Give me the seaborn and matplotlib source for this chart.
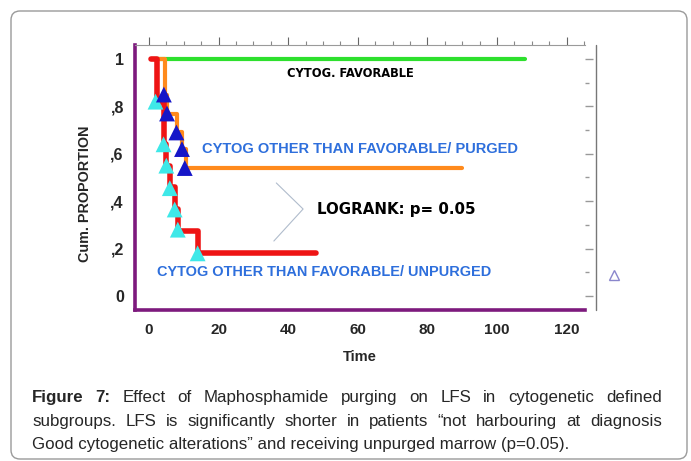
import matplotlib
matplotlib.use("Agg")
import matplotlib.pyplot as plt
from matplotlib.patches import FancyBboxPatch
from matplotlib.lines import Line2D
from matplotlib.transforms import IdentityTransform
from matplotlib.ticker import MultipleLocator
import pandas as pd
import seaborn as sns

# step curves (time in months, cumulative proportion)
fav_time = [1.0, 108.0]
fav_prop = [1.0, 1.0]

purged_time = [0.5, 4.6, 5.2, 8.0, 9.6, 10.6, 90.0]
purged_prop = [1.0, 0.85, 0.77, 0.69, 0.62, 0.54, 0.54]

unpurged_time = [0.5, 2.2, 4.3, 5.0, 6.0, 7.4, 8.3, 14.0, 48.0]
unpurged_prop = [1.0, 0.82, 0.64, 0.55, 0.46, 0.365, 0.275, 0.18, 0.18]

# censored marks
purged_cens_t = [4.3, 5.2, 7.9, 9.5, 10.3]
purged_cens_p = [0.85, 0.77, 0.69, 0.62, 0.54]
unpurged_cens_t = [1.9, 4.2, 5.0, 6.0, 7.4, 8.3, 14.0]
unpurged_cens_p = [0.82, 0.64, 0.55, 0.455, 0.365, 0.28, 0.18]

y_ticks = [0, 0.2, 0.4, 0.6, 0.8, 1.0]
y_ticklabels = ["0", ",2", ",4", ",6", ",8", "1"]
x_ticks = [0, 20, 40, 60, 80, 100, 120]

caption_lines = [
    [("Figure", "bold"), ("7:", "bold"), ("Effect", "normal"), ("of", "normal"),
     ("Maphosphamide", "normal"), ("purging", "normal"), ("on", "normal"),
     ("LFS", "normal"), ("in", "normal"), ("cytogenetic", "normal"), ("defined", "normal")],
    [(w, "normal") for w in
     "subgroups. LFS is significantly shorter in patients \u201cnot harbouring at diagnosis".split()],
]
caption_last = "Good cytogenetic alterations\u201d and receiving unpurged marrow (p=0.05)."

W, H = 691, 461
sns.set_style("white")
plt.rcParams["font.family"] = ["Liberation Sans", "DejaVu Sans"]

fig = plt.figure(figsize=(W / 100, H / 100), dpi=100)
ax = fig.add_axes([135 / W, 1 - 310 / H, 450 / W, 265 / H])

purple = "#7d1a7d"
green = "#2ee02e"
orange = "#ff8a1c"
red = "#ee1414"
blue_txt = "#2e6fdc"

fav = pd.DataFrame({"t": fav_time, "p": fav_prop})
pur = pd.DataFrame({"t": purged_time, "p": purged_prop})
unp = pd.DataFrame({"t": unpurged_time, "p": unpurged_prop})

sns.lineplot(data=fav, x="t", y="p", ax=ax, color=green, lw=3,
             drawstyle="steps-post", estimator=None, sort=False)
sns.lineplot(data=pur, x="t", y="p", ax=ax, color=orange, lw=3,
             drawstyle="steps-post", estimator=None, sort=False)
sns.lineplot(data=unp, x="t", y="p", ax=ax, color=red, lw=4,
             drawstyle="steps-post", estimator=None, sort=False)

sns.scatterplot(x=unpurged_cens_t, y=unpurged_cens_p, ax=ax, marker="^",
                s=130, color="#3ee8e8", edgecolor="none", zorder=5)
sns.scatterplot(x=purged_cens_t, y=purged_cens_p, ax=ax, marker="^",
                s=130, color="#1616c8", edgecolor="none", zorder=6)

ax.set_xlim(-4.0, 125.3)
ax.set_ylim(-0.059, 1.059)

# labels inside the plot
ax.text(58, 0.94, "CYTOG. FAVORABLE", fontsize=8.3, fontweight="bold",
        family="DejaVu Sans", ha="center", va="center", color="black")
ax.text(15.3, 0.62, "CYTOG OTHER THAN FAVORABLE/ PURGED", fontsize=10.5,
        fontweight="bold", ha="left", va="center", color=blue_txt)
ax.text(48.3, 0.367, "LOGRANK: p= 0.05", fontsize=10.8, fontweight="bold",
        family="DejaVu Sans", ha="left", va="center", color="black")
ax.text(2.4, 0.10, "CYTOG OTHER THAN FAVORABLE/ UNPURGED", fontsize=10.45,
        fontweight="bold", ha="left", va="center", color=blue_txt)
ax.plot([36.6, 44.3, 35.9], [0.477, 0.367, 0.232], color="#b0bccc", lw=0.8)
ax.plot([133.5], [0.09], marker="^", ms=7, mfc="none", mec="#8a86cc",
        mew=1, clip_on=False)

# spines
for s in ["left", "bottom"]:
    ax.spines[s].set_color(purple)
    ax.spines[s].set_linewidth(2.6)
ax.spines["top"].set_color("#9a9a9a")
ax.spines["top"].set_linewidth(0.8)
ax.spines["right"].set_visible(False)

ax.set_yticks(y_ticks)
ax.set_yticklabels(y_ticklabels)
ax.set_xticks(x_ticks)
ax.xaxis.set_minor_locator(MultipleLocator(5))
ax.tick_params(axis="both", which="both", color="#888888", length=3, width=0.8,
               direction="out")
ax.tick_params(axis="y", pad=5, labelsize=11.5)
ax.tick_params(axis="x", pad=6, labelsize=11)
for lab in ax.get_xticklabels() + ax.get_yticklabels():
    lab.set_fontweight("bold")

top = ax.secondary_xaxis("top")
top.set_xticks(x_ticks)
top.xaxis.set_minor_locator(MultipleLocator(5))
top.tick_params(which="major", length=6, color="#666666", width=0.8, labeltop=False)
top.tick_params(which="minor", length=3, color="#888888", width=0.8)
top.spines["top"].set_visible(False)

right = ax.secondary_yaxis("right")
right.set_yticks(y_ticks)
right.yaxis.set_minor_locator(MultipleLocator(0.1))
right.tick_params(which="major", length=6, color="#999999", width=1, labelright=False)
right.tick_params(which="minor", length=3, color="#999999", width=1)
right.spines["right"].set_visible(False)

ax.set_xlabel("Time", fontsize=10.5, fontweight="bold", labelpad=10)
ax.set_ylabel("Cum. PROPORTION", fontsize=10.4, fontweight="bold")
ax.yaxis.set_label_coords(-0.096, 0.438)

# gray vertical rule on the right
fig.add_artist(Line2D([596 / W, 596 / W], [1 - 45 / H, 1 - 310 / H],
                      color="#777777", lw=1))

# outer rounded frame
fig.add_artist(FancyBboxPatch((11, 2), 676, 448, boxstyle="round,pad=0,rounding_size=9",
                              transform=IdentityTransform(), fc="none",
                              ec="#9a9a9a", lw=1))

# caption, justified
cap_fs = 12.2
x0, x1 = 32, 662
renderer = fig.canvas.get_renderer()
line_y = [397, 421]
for words, yc in zip(caption_lines, line_y):
    texts = [fig.text(0, 1 - yc / H, w, fontsize=cap_fs, fontweight=wt,
                      ha="left", va="center") for w, wt in words]
    widths = [t.get_window_extent(renderer).width for t in texts]
    gap = (x1 - x0 - sum(widths)) / (len(texts) - 1)
    x = x0
    for t, w in zip(texts, widths):
        t.set_x(x / W)
        x += w + gap
fig.text(x0 / W, 1 - 444 / H, caption_last, fontsize=cap_fs, ha="left", va="center")

fig.savefig("out.png", dpi=100)
